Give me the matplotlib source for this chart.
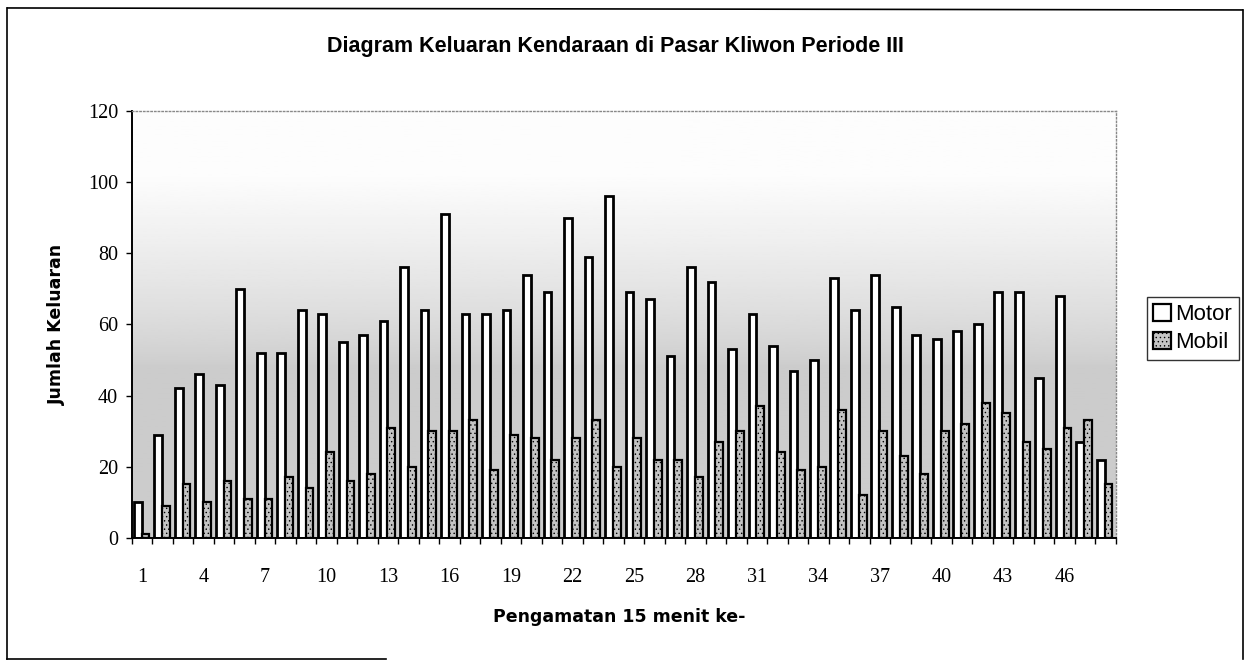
import numpy as np
import matplotlib
matplotlib.use("Agg")
import matplotlib.pyplot as plt
from matplotlib.patches import Patch

# data
periods = np.arange(1, 49)
motor = [10, 29, 42, 46, 43, 70, 52, 52, 64, 63, 55, 57, 61, 76, 64, 91,
         63, 63, 64, 74, 69, 90, 79, 96, 69, 67, 51, 76, 72, 53, 63, 54,
         47, 50, 73, 64, 74, 65, 57, 56, 58, 60, 69, 69, 45, 68, 27, 22]
mobil = [1, 9, 15, 10, 16, 11, 11, 17, 14, 24, 16, 18, 31, 20, 30, 30,
         33, 19, 29, 28, 22, 28, 33, 20, 28, 22, 22, 17, 27, 30, 37, 24,
         19, 20, 36, 12, 30, 23, 18, 30, 32, 38, 35, 27, 25, 31, 33, 15]
tick_labels = [str(p) for p in periods[::3]]

plt.rcParams['hatch.linewidth'] = 0.5

fig = plt.figure(figsize=(12.45, 6.64), dpi=100)
ax = fig.add_axes([0.106, 0.19, 0.79, 0.643])

# stippled grey backdrop, light at the top, darker further down
grad = np.linspace(0, 1, 256).reshape(-1, 1)
shade = 0.80 + 0.19 * np.clip((grad - 0.4) / 0.45, 0, 1) ** 0.8
ax.imshow(shade, cmap='gray', vmin=0, vmax=1, aspect='auto', origin='lower',
          extent=[0.5, 48.5, 0, 120], zorder=0)

w = 0.38
ax.bar(periods - 0.22, motor, width=w, color='white', edgecolor='black',
       linewidth=2, zorder=2, label='Motor')
ax.bar(periods + 0.16, mobil, width=w, color='#c4c4c4', edgecolor='black',
       linewidth=1.6, hatch='....', zorder=2, label='Mobil')

ax.set_xlim(0.5, 48.5)
ax.set_ylim(0, 120)
ax.set_yticks(range(0, 121, 20))
ax.set_xticks(periods[::3])
ax.set_xticklabels(tick_labels)
ax.set_xticks(np.arange(0.5, 49, 1), minor=True)
ax.tick_params(axis='x', which='major', length=0, pad=22)
ax.tick_params(axis='x', which='minor', length=4, width=1, direction='out')
ax.tick_params(axis='y', length=4, width=1, direction='out', pad=6)
for lab in ax.get_xticklabels() + ax.get_yticklabels():
    lab.set_fontfamily('Liberation Serif')
    lab.set_fontsize(14.5)

for s in ['left', 'bottom']:
    ax.spines[s].set_linewidth(1.4)
for s in ['top', 'right']:
    ax.spines[s].set_color('#888888')
    ax.spines[s].set_linestyle(':')
    ax.spines[s].set_linewidth(1)

ax.set_ylabel('Jumlah Keluaran', fontsize=12.5, fontweight='bold',
              family='DejaVu Sans', labelpad=16)
fig.text(0.497, 0.071, 'Pengamatan 15 menit ke-', ha='center', va='center',
         fontsize=12.5, fontweight='bold', family='DejaVu Sans')
fig.text(0.494, 0.93, 'Diagram Keluaran Kendaraan di Pasar Kliwon Periode III',
         ha='center', va='center', fontsize=15.5, fontweight='bold',
         family='Liberation Sans')

handles = [Patch(facecolor='white', edgecolor='black', linewidth=1.6),
           Patch(facecolor='#c4c4c4', edgecolor='black', linewidth=1.6, hatch='....')]
leg = fig.legend(handles, ['Motor', 'Mobil'], loc='center left',
                 bbox_to_anchor=(0.912, 0.505), frameon=True, fancybox=False,
                 edgecolor='black', handlelength=0.8, handleheight=0.8,
                 handletextpad=0.2, borderpad=0.3, labelspacing=0.3,
                 prop={'family': 'Liberation Sans', 'size': 16})
leg.get_frame().set_linewidth(1)

# outer chart frame
frame = dict(color='black', linewidth=1.2, transform=fig.transFigure)
fig.add_artist(plt.Line2D([0.006, 0.998], [0.988, 0.985], **frame))
fig.add_artist(plt.Line2D([0.006, 0.006], [0.988, 0.008], **frame))
fig.add_artist(plt.Line2D([0.998, 0.998], [0.985, 0.008], **frame))
fig.add_artist(plt.Line2D([0.006, 0.31], [0.008, 0.008], **frame))

fig.savefig('out.png', dpi=100)
